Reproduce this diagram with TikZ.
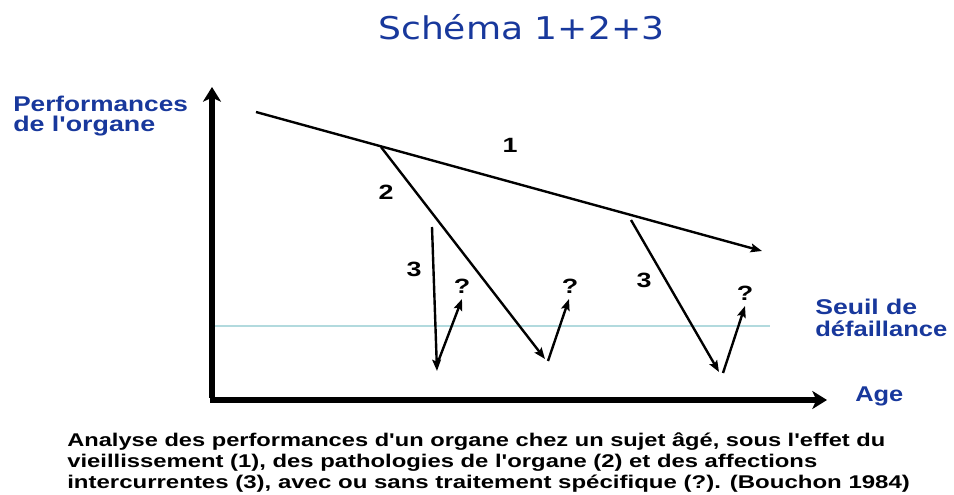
\documentclass[tikz,border=0pt]{standalone}
\usepackage{fontspec}
\usepackage{graphicx}
\setmainfont{Liberation Sans}[Ligatures=TeXOff]
\newfontfamily\titlefont{DejaVu Sans}
\usetikzlibrary{arrows.meta}
\definecolor{lblblue}{RGB}{24,56,156}
\definecolor{seuil}{RGB}{178,218,222}
\newcommand{\apo}{\char"27}
\tikzset{
  thinarrow/.style={line width=1.8pt, -{Stealth[length=8.5pt,width=6.5pt,inset=1.5pt]}},
  axisline/.style={line width=3.8pt, -{Stealth[length=11pt,width=13.5pt,inset=3pt]}},
  bluelbl/.style={anchor=base west, inner sep=0pt, text=lblblue, font=\fontsize{16pt}{18pt}\selectfont\bfseries},
  caplbl/.style={anchor=base west, inner sep=0pt, text=black, font=\fontsize{13.8pt}{15pt}\selectfont\bfseries},
  numlbl/.style={inner sep=0pt, text=black, font=\fontsize{15.5pt}{16pt}\selectfont\bfseries}
}
\begin{document}
\begin{tikzpicture}[x=0.75pt,y=-0.75pt]
\useasboundingbox[fill=white] (0,0) rectangle (954,495);
% title
\node[anchor=base west, inner sep=0pt, text=lblblue, font=\titlefont\fontsize{23.5pt}{24pt}\selectfont] (title) at (378,40) {\resizebox{214.5pt}{\height}{Schéma 1+2+3}};
% axis labels
\node[bluelbl] (perf) at (13,112) {\resizebox{131pt}{\height}{Performances}};
\node[bluelbl] (organe) at (13,132) {\resizebox{106.5pt}{\height}{de l\apo organe}};
\node[bluelbl] (seuil1) at (815,315) {\resizebox{76.5pt}{\height}{Seuil de}};
\node[bluelbl] (seuil2) at (815,337) {\resizebox{99pt}{\height}{défaillance}};
\node[bluelbl] (age) at (855,402) {\resizebox{36pt}{\height}{Age}};
% threshold line
\coordinate (s0) at (212,326);
\coordinate (s1) at (770,326);
\draw[seuil, line width=1.6pt] (s0) -- (s1);
% axes
\coordinate (o) at (212,400);
\coordinate (ytop) at (212,87);
\coordinate (xend) at (827,400);
\draw[axisline] (212,398) -- (ytop);
\draw[axisline] (210,400) -- (xend);
% curve 1
\coordinate (a1) at (256,112);
\coordinate (a2) at (762,251);
\draw[thinarrow] (a1) -- (a2);
% curve 2
\coordinate (b1) at (381,147);
\coordinate (b2) at (545,359);
\draw[thinarrow] (b1) -- (b2);
\coordinate (b3) at (548,361);
\coordinate (b4) at (569,299);
\draw[thinarrow] (b3) -- (b4);
% curve 3 (first)
\coordinate (c1) at (432,227);
\coordinate (c2) at (437,371);
\draw[thinarrow] (c1) -- (c2);
\coordinate (c3) at (438,362);
\coordinate (c4) at (462,299);
\draw[thinarrow] (c3) -- (c4);
% curve 3 (second)
\coordinate (d1) at (631,220);
\coordinate (d2) at (719,372);
\draw[thinarrow] (d1) -- (d2);
\coordinate (d3) at (723,373);
\coordinate (d4) at (745,306);
\draw[thinarrow] (d3) -- (d4);
% numbers
\node[numlbl] (n1) at (510,145) {\scalebox{1.3}[1]{1}};
\node[numlbl] (n2) at (386,192) {\scalebox{1.3}[1]{2}};
\node[numlbl] (n3a) at (414,269) {\scalebox{1.3}[1]{3}};
\node[numlbl] (n3b) at (644,280) {\scalebox{1.3}[1]{3}};
\node[numlbl] (q1) at (462,286) {\scalebox{1.3}[1]{?}};
\node[numlbl] (q2) at (570,286) {\scalebox{1.3}[1]{?}};
\node[numlbl] (q3) at (745,293) {\scalebox{1.3}[1]{?}};
% caption
\node[caplbl] (cap1) at (67,446) {\resizebox{613.5pt}{\height}{Analyse des performances d\apo un organe chez un sujet âgé, sous l\apo effet du}};
\node[caplbl] (cap2) at (67,467) {\resizebox{562.5pt}{\height}{vieillissement (1), des pathologies de l\apo organe (2) et des affections}};
\node[caplbl] (cap3) at (67,488) {\resizebox{632pt}{\height}{intercurrentes (3), avec ou sans traitement spécifique (?). (Bouchon 1984)}};
\end{tikzpicture}
\end{document}
